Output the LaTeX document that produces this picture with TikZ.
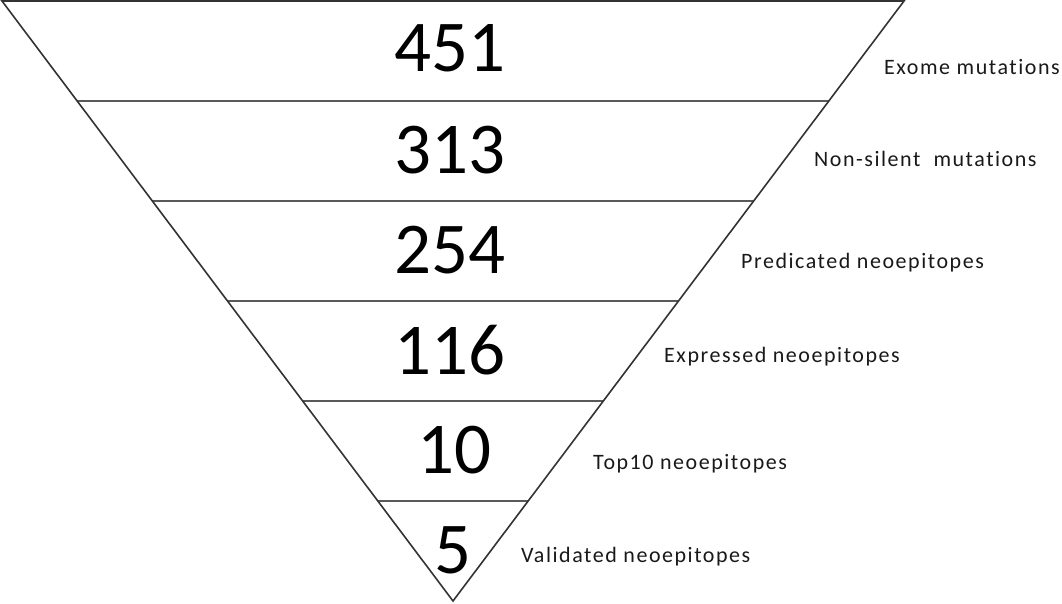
\documentclass[tikz,border=0pt]{standalone}
\usepackage{fontspec}
\setmainfont{Carlito}[Ligatures=NoCommon]
\newfontfamily\lblfont{Carlito}[Ligatures=NoCommon,LetterSpace=7]
\usetikzlibrary{calc}
\begin{document}
\begin{tikzpicture}[x=1pt,y=-1pt,
  edge/.style={draw=black!80,line width=1.6pt},
  level/.style={draw=black!65,line width=1.6pt},
  num/.style={font=\fontsize{73}{73}\selectfont,inner sep=0pt},
  lbl/.style={font=\lblfont\fontsize{22}{22}\selectfont,inner sep=0pt,anchor=base west,text=black!90}]
\useasboundingbox (0,0) rectangle (1062,604);
\coordinate (A) at (2,1);
\coordinate (B) at (904,1);
\coordinate (C) at (453,601);
\foreach \i in {1,...,5}{
  \draw[level] ($(A)!\i/6!(C)$) -- ($(B)!\i/6!(C)$);
}
\draw[edge,line join=miter] (C) -- (A) -- (B) -- cycle;
\node[num] (n1) at (450,48) {451};
\node[num] (n2) at (450,150) {313};
\node[num] (n3) at (450,250) {254};
\node[num] (n4) at (450,350) {116};
\node[num] (n5) at (454,450) {10};
\node[num] (n6) at (453,550) {5};
\node[lbl] (l1) at (884,75) {Exome mutations};
\node[lbl] (l2) at (814,167) {Non-silent\ \ mutations};
\node[lbl] (l3) at (741,268) {Predicated neoepitopes};
\node[lbl] (l4) at (664,362) {Expressed neoepitopes};
\node[lbl] (l5) at (593,469) {Top10 neoepitopes};
\node[lbl] (l6) at (521,562) {Validated neoepitopes};
\end{tikzpicture}
\end{document}
